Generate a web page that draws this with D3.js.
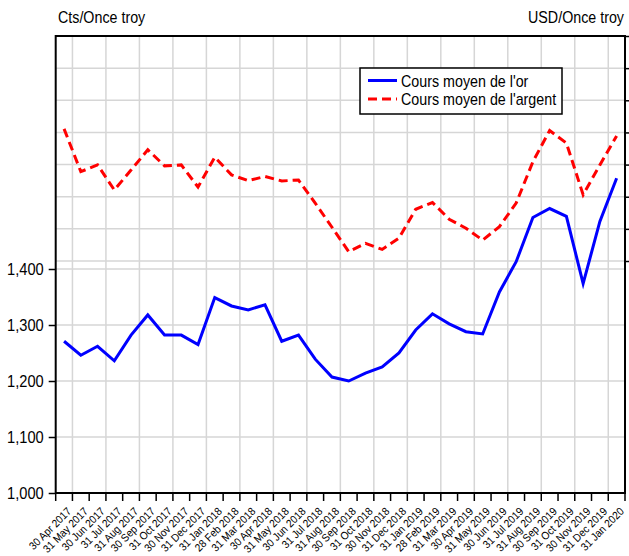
<!DOCTYPE html>
<html>
<head>
<meta charset="utf-8">
<script src="https://cdn.jsdelivr.net/npm/d3@7"></script>
<style>
  body { margin: 0; background: #fff; }
  text { font-family: "Liberation Sans", Arial, sans-serif; fill: #000; }
</style>
</head>
<body>
<svg id="chart" width="629" height="556"></svg>
<script>
'use strict';

// month-end dates shown on the x axis
var months = ['30 Apr 2017','31 May 2017','30 Jun 2017','31 Jul 2017','31 Aug 2017','30 Sep 2017',
  '31 Oct 2017','30 Nov 2017','31 Dec 2017','31 Jan 2018','28 Feb 2018','31 Mar 2018','30 Apr 2018',
  '31 May 2018','30 Jun 2018','31 Jul 2018','31 Aug 2018','30 Sep 2018','31 Oct 2018','30 Nov 2018',
  '31 Dec 2018','31 Jan 2019','28 Feb 2019','31 Mar 2019','30 Apr 2019','31 May 2019','30 Jun 2019',
  '31 Jul 2019','31 Aug 2019','30 Sep 2019','31 Oct 2019','30 Nov 2019','31 Dec 2019','31 Jan 2020'];

// left scale
var gold = [1271,1246,1262,1236,1282,1318,1282,1282,1265,1349,1334,1327,1336,1271,1282,1239,1207,1200,
  1214,1225,1250,1291,1320,1302,1288,1284,1359,1413,1492,1508,1494,1374,1485,1562];

// right scale
var silver = [18.11,16.78,16.99,16.21,16.83,17.46,16.96,16.99,16.30,17.23,16.68,16.50,16.63,16.49,16.52,
  15.80,15.05,14.29,14.55,14.36,14.71,15.61,15.82,15.30,15.02,14.65,15.07,15.80,17.09,18.06,17.67,16.06,
  16.99,17.89];

var leftTicks = [1000, 1100, 1200, 1300, 1400];
var rightTicks = [14, 15, 16, 17, 18, 19, 20, 21];
var seriesNames = ["Cours moyen de l'or", "Cours moyen de l'argent"];

var svg = d3.select('#chart');
var pLeft = 55.7, pRight = 625, pTop = 36, pBottom = 493;

var x = d3.scaleBand().domain(months).range([pLeft, pRight]).padding(0);
var yL = d3.scaleLinear().domain([1000, 1400]).range([pBottom, 269]);
var yR = d3.scaleLinear().domain([14, 21]).range([261, pTop]);
var cx = function(d){ return x(d) + x.bandwidth() / 2; };

// squeeze text horizontally, the original uses a narrow face
var narrow = function(sel, k){
  sel.each(function(){
    var w = this.getComputedTextLength();
    d3.select(this).attr('textLength', w * k).attr('lengthAdjust', 'spacingAndGlyphs');
  });
};

// grid
var grid = svg.append('g').attr('class', 'grid')
  .attr('stroke', '#d6d6d6').attr('stroke-width', 1.5);

months.forEach(function(m, i){
  if(i % 2 === 1){
    grid.append('line')
      .attr('x1', x(m)).attr('x2', x(m))
      .attr('y1', pTop).attr('y2', pBottom);
  }
});

grid.selectAll('.gl').data(leftTicks.slice(1)).enter().append('line')
  .attr('x1', pLeft).attr('x2', pRight)
  .attr('y1', function(d){ return yL(d); })
  .attr('y2', function(d){ return yL(d); });

grid.selectAll('.gr').data(rightTicks.slice(0, -1)).enter().append('line')
  .attr('x1', pLeft).attr('x2', pRight)
  .attr('y1', function(d){ return yR(d); })
  .attr('y2', function(d){ return yR(d); });

// series
var goldLine = d3.line()
  .x(function(d, i){ return cx(months[i]); })
  .y(function(d){ return yL(d); });

var silverLine = d3.line()
  .x(function(d, i){ return cx(months[i]); })
  .y(function(d){ return yR(d); });

svg.append('path').datum(silver)
  .attr('d', silverLine)
  .attr('fill', 'none')
  .attr('stroke', '#ff0000')
  .attr('stroke-width', 3)
  .attr('stroke-dasharray', '9,5');

svg.append('path').datum(gold)
  .attr('d', goldLine)
  .attr('fill', 'none')
  .attr('stroke', '#0000ff')
  .attr('stroke-width', 3);

// frame
svg.append('rect')
  .attr('x', pLeft).attr('y', pTop)
  .attr('width', pRight - pLeft).attr('height', pBottom - pTop)
  .attr('fill', 'none').attr('stroke', '#000').attr('stroke-width', 2);

// left axis
var axL = svg.append('g')
  .attr('transform', 'translate(' + pLeft + ',0)')
  .call(d3.axisLeft(yL).tickValues(leftTicks).tickFormat(d3.format(',')).tickSize(7).tickPadding(5));
axL.select('.domain').remove();
axL.selectAll('line').attr('stroke', '#000').attr('stroke-width', 1.5);
axL.selectAll('text').style('font-size', '17px').style('font-family', '"Liberation Sans", Arial, sans-serif');
narrow(axL.selectAll('text'), 0.86);

// right axis (labels fall outside the picture)
var axR = svg.append('g')
  .attr('transform', 'translate(' + pRight + ',0)')
  .call(d3.axisRight(yR).tickValues(rightTicks).tickFormat('').tickSize(7));
axR.select('.domain').remove();
axR.selectAll('line').attr('stroke', '#000').attr('stroke-width', 1.5);

// bottom axis: ticks at month boundaries, labels at band centers
var axB = svg.append('g').attr('class', 'xaxis');
axB.selectAll('line').data(months.concat(['end'])).enter().append('line')
  .attr('x1', function(d){ return d === 'end' ? pRight : x(d); })
  .attr('x2', function(d){ return d === 'end' ? pRight : x(d); })
  .attr('y1', pBottom).attr('y2', pBottom + 8)
  .attr('stroke', '#000').attr('stroke-width', 1.5);

axB.selectAll('text').data(months).enter().append('text')
  .attr('text-anchor', 'end')
  .attr('transform', function(d){ return 'translate(' + (cx(d) + 8) + ',' + (pBottom + 19) + ') rotate(-45)'; })
  .style('font-size', '11px')
  .text(function(d){ return d; });
narrow(axB.selectAll('text'), 0.92);

// axis titles, squeezed with a scale about their anchor
svg.append('text')
  .attr('transform', 'translate(58,23) scale(0.84,1)')
  .style('font-size', '17px')
  .text('Cts/Once troy');
svg.append('text')
  .attr('transform', 'translate(624,23) scale(0.84,1)')
  .attr('text-anchor', 'end')
  .style('font-size', '17px')
  .text('USD/Once troy');

// legend
var lg = svg.append('g').attr('transform', 'translate(360,68)');
lg.append('rect').attr('width', 202).attr('height', 46)
  .attr('fill', '#fff').attr('stroke', '#000').attr('stroke-width', 1.5);
lg.append('line').attr('x1', 8).attr('x2', 37).attr('y1', 12.5).attr('y2', 12.5)
  .attr('stroke', '#0000ff').attr('stroke-width', 3);
lg.append('line').attr('x1', 8).attr('x2', 37).attr('y1', 31).attr('y2', 31)
  .attr('stroke', '#ff0000').attr('stroke-width', 3).attr('stroke-dasharray', '9,5');
lg.selectAll('text').data(seriesNames).enter().append('text')
  .attr('x', 41)
  .attr('y', function(d, i){ return 18.5 + i * 18.5; })
  .style('font-size', '17px')
  .text(function(d){ return d; });
narrow(lg.selectAll('text'), 0.84);
</script>
</body>
</html>
